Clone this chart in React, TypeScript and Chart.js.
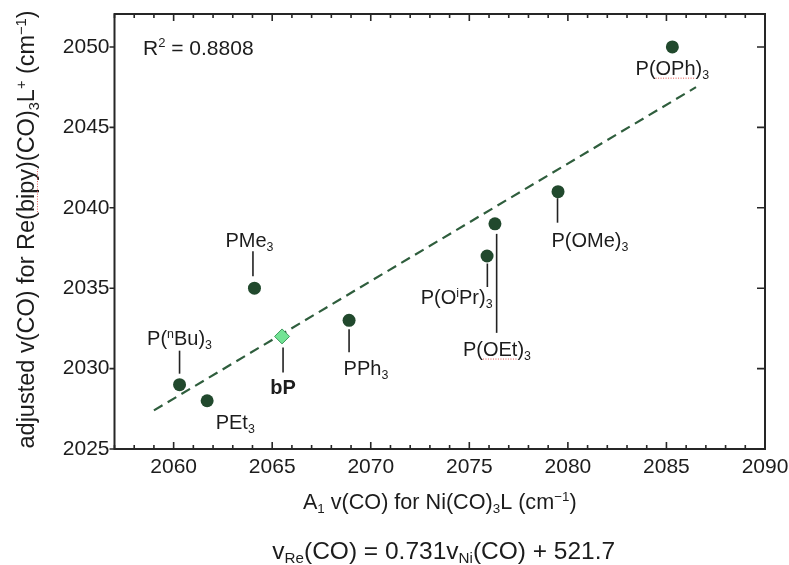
import React, { useEffect, useRef } from 'react';
import { Chart, registerables } from 'chart.js';

Chart.register(...registerables);

// ---------- data ----------
const ligands = ['P(~OPh~)_3', 'P(OMe)_3', 'P(~OEt~)_3', 'P(O^iPr)_3', 'PMe_3', 'PPh_3', 'P(^nBu)_3', 'PEt_3'];
const niFreq = [2085.3, 2079.5, 2076.3, 2075.9, 2064.1, 2068.9, 2060.3, 2061.7];
const reFreq = [2050, 2041, 2039, 2037, 2035, 2033, 2029, 2028];
const bpName = 'bP';
const bpNi = [2065.5];
const bpRe = [2032];
const fitNi = [2059.0, 2086.5];
const fitRe = [2027.4, 2047.5];
const xTickValues = [2060, 2065, 2070, 2075, 2080, 2085, 2090];
const yTickValues = [2025, 2030, 2035, 2040, 2045, 2050];
const r2Text = 'R^2 = 0.8808';
const xTitle = 'A_1 v(CO) for Ni(CO)_3L (cm^{\u22121})';
const yTitle = 'adjusted v(CO) for Re(~bipy~)(CO)_3L^+ (cm^{\u22121})';
const equationText = 'v_{Re}(CO) = 0.731v_{Ni}(CO) + 521.7';

// ---------- label placement (pixel offsets from the mark) ----------
type Place = { dx: number; dy: number; align: 'left' | 'center' | 'right'; line?: [number, number, number] };
const labelPlacement: Place[] = [
  { dx: 0, dy: 21, align: 'center' },
  { dx: -6.5, dy: 48, align: 'left', line: [-0.5, 6.5, 31] },
  { dx: 2, dy: 125, align: 'center', line: [1.7, 10, 109] },
  { dx: 5.5, dy: 41, align: 'right', line: [0.3, 7.5, 31] },
  { dx: -5, dy: -48, align: 'center', line: [-1.5, -37, -12] },
  { dx: -5.5, dy: 47, align: 'left', line: [0, 9, 32] },
  { dx: 0, dy: -47, align: 'center', line: [0, -34, -11] },
  { dx: 8.5, dy: 21, align: 'left' },
];
const bpPlacement: Place = { dx: 1, dy: 50, align: 'center', line: [1, 11, 36] };

const FAMILY = '"Liberation Sans", Arial, Helvetica, sans-serif';
const TEXT = '#1c1c1c';
const DARK_GREEN = '#21492d';
const LINE_GREEN = '#2f5e3d';

type Seg = { t: string; k: 'n' | 'sub' | 'sup'; u: boolean };
function parseRich(s: string): Seg[] {
  const segs: Seg[] = [];
  let u = false;
  let i = 0;
  const push = (t: string, k: Seg['k']) => {
    if (!t) return;
    const last = segs[segs.length - 1];
    if (last && last.k === k && last.u === u) last.t += t;
    else segs.push({ t, k, u });
  };
  while (i < s.length) {
    const c = s[i];
    if (c === '~') { u = !u; i++; continue; }
    if (c === '_' || c === '^') {
      const k = c === '_' ? 'sub' : 'sup';
      if (s[i + 1] === '{') {
        const j = s.indexOf('}', i + 2);
        push(s.slice(i + 2, j), k);
        i = j + 1;
      } else {
        push(s[i + 1], k);
        i += 2;
      }
      continue;
    }
    push(c, 'n');
    i++;
  }
  return segs;
}

const fontFor = (size: number, bold: boolean) => `${bold ? 'bold ' : ''}${size}px ${FAMILY}`;

function drawRich(
  ctx: CanvasRenderingContext2D, text: string, x: number, cy: number, size: number,
  align: 'left' | 'center' | 'right', bold = false, color = TEXT, subOff = 0.2,
) {
  const segs = parseRich(text);
  const small = size * 0.62;
  const widths = segs.map((sg) => {
    ctx.font = fontFor(sg.k === 'n' ? size : small, bold);
    return ctx.measureText(sg.t).width;
  });
  const total = widths.reduce((a, b) => a + b, 0);
  let cx = align === 'center' ? x - total / 2 : align === 'right' ? x - total : x;
  const base = cy + size * 0.36;
  ctx.save();
  ctx.textAlign = 'left';
  ctx.textBaseline = 'alphabetic';
  ctx.fillStyle = color;
  segs.forEach((sg, i) => {
    const sz = sg.k === 'n' ? size : small;
    const off = sg.k === 'sub' ? size * subOff : sg.k === 'sup' ? -size * 0.36 : 0;
    ctx.font = fontFor(sz, bold);
    ctx.fillText(sg.t, cx, base + off);
    if (sg.u) {
      ctx.save();
      ctx.strokeStyle = '#e0504a';
      ctx.lineWidth = 1;
      ctx.setLineDash([1, 1.5]);
      ctx.beginPath();
      ctx.moveTo(cx, base + 3);
      ctx.lineTo(cx + widths[i], base + 3);
      ctx.stroke();
      ctx.restore();
    }
    cx += widths[i];
  });
  ctx.restore();
  return total;
}

const framePlugin = {
  id: 'frameAndLabels',
  afterDraw(chart: any) {
    const { ctx, chartArea: ca, scales } = chart;
    const xs = scales.x;
    const ys = scales.y;
    ctx.save();
    // box
    ctx.strokeStyle = '#262626';
    ctx.lineWidth = 2;
    ctx.strokeRect(ca.left, ca.top, ca.right - ca.left, ca.bottom - ca.top);
    // x ticks (inward, bottom + top)
    ctx.lineWidth = 1.6;
    for (let v = Math.ceil(xs.min); v <= xs.max; v++) {
      const px = xs.getPixelForValue(v);
      const len = v % 5 === 0 ? 7 : 4;
      ctx.beginPath();
      ctx.moveTo(px, ca.bottom);
      ctx.lineTo(px, ca.bottom - len);
      ctx.moveTo(px, ca.top);
      ctx.lineTo(px, ca.top + len);
      ctx.stroke();
    }
    // y ticks (left outward, right inward)
    yTickValues.forEach((v) => {
      const py = ys.getPixelForValue(v);
      ctx.beginPath();
      ctx.moveTo(ca.left - 5, py);
      ctx.lineTo(ca.left, py);
      ctx.moveTo(ca.right - 8, py);
      ctx.lineTo(ca.right, py);
      ctx.stroke();
    });

    // point labels
    const drawLabel = (name: string, px: number, py: number, pl: Place, bold: boolean) => {
      if (pl.line) {
        ctx.save();
        ctx.strokeStyle = '#222';
        ctx.lineWidth = 1.6;
        ctx.beginPath();
        ctx.moveTo(px + pl.line[0], py + pl.line[1]);
        ctx.lineTo(px + pl.line[0], py + pl.line[2]);
        ctx.stroke();
        ctx.restore();
      }
      drawRich(ctx, name, px + pl.dx, py + pl.dy, 20, pl.align, bold);
    };
    ligands.forEach((name, i) => {
      drawLabel(name, xs.getPixelForValue(niFreq[i]), ys.getPixelForValue(reFreq[i]), labelPlacement[i], false);
    });
    drawLabel(bpName, xs.getPixelForValue(bpNi[0]), ys.getPixelForValue(bpRe[0]), bpPlacement, true);

    // R^2
    drawRich(ctx, r2Text, ca.left + 28.5, ca.top + 33, 21, 'left');

    // axis titles
    const midX = (ca.left + ca.right) / 2;
    drawRich(ctx, xTitle, midX, ca.bottom + 52, 21.6, 'center');
    ctx.save();
    ctx.translate(26, (ca.top + ca.bottom) / 2 - 2);
    ctx.rotate(-Math.PI / 2);
    drawRich(ctx, yTitle, 0, 0, 23.5, 'center');
    ctx.restore();

    // equation
    drawRich(ctx, equationText, midX + 4, ca.bottom + 101.5, 24.5, 'center', false, TEXT, 0.15);
    ctx.restore();
  },
};

export default function App() {
  const ref = useRef<HTMLCanvasElement | null>(null);
  useEffect(() => {
    document.body.style.margin = '0';
    const canvas = ref.current!;
    const chart = new Chart(canvas, {
      type: 'scatter',
      data: {
        datasets: [
          {
            type: 'line',
            data: fitNi.map((x, i) => ({ x, y: fitRe[i] })),
            borderColor: LINE_GREEN,
            borderWidth: 2.2,
            borderDash: [10, 6],
            pointRadius: 0,
            fill: false,
            order: 3,
          } as any,
          {
            data: niFreq.map((x, i) => ({ x, y: reFreq[i] })),
            backgroundColor: DARK_GREEN,
            borderColor: DARK_GREEN,
            borderWidth: 0,
            pointRadius: 6.5,
            order: 2,
          },
          {
            data: bpNi.map((x, i) => ({ x, y: bpRe[i] })),
            pointStyle: 'rectRot',
            backgroundColor: '#72e394',
            borderColor: '#3f9a5e',
            borderWidth: 1,
            pointRadius: 7.5,
            order: 1,
          },
        ],
      },
      options: {
        responsive: false,
        animation: false,
        devicePixelRatio: 1,
        events: [],
        layout: { padding: { top: 14, right: 24, left: 0, bottom: 0 } },
        plugins: { legend: { display: false }, tooltip: { enabled: false } },
        scales: {
          x: {
            type: 'linear',
            min: 2057,
            max: 2090,
            grid: { display: false, drawTicks: false },
            border: { display: false },
            ticks: {
              font: { size: 21, family: FAMILY }, color: TEXT, padding: 6, maxRotation: 0, autoSkip: false,
              callback: (v: any) => String(v),
            },
            afterBuildTicks: (s: any) => { s.ticks = xTickValues.map((value) => ({ value })); },
            afterFit: (s: any) => { s.height = 116; s.paddingLeft = 0; s.paddingRight = 0; },
          },
          y: {
            type: 'linear',
            min: 2025,
            max: 2052.05,
            grid: { display: false, drawTicks: false },
            border: { display: false },
            ticks: {
              font: { size: 21, family: FAMILY }, color: TEXT, padding: 5, autoSkip: false,
              callback: (v: any) => String(v),
            },
            afterBuildTicks: (s: any) => { s.ticks = yTickValues.map((value) => ({ value })); },
            afterFit: (s: any) => { s.width = 114.5; s.paddingTop = 0; s.paddingBottom = 0; },
          },
        },
      },
      plugins: [framePlugin],
    });
    return () => chart.destroy();
  }, []);
  return (
    <div style={{ width: 789, height: 565, background: '#fff' }}>
      <canvas ref={ref} width={789} height={565} style={{ display: 'block', width: 789, height: 565 }} />
    </div>
  );
}
